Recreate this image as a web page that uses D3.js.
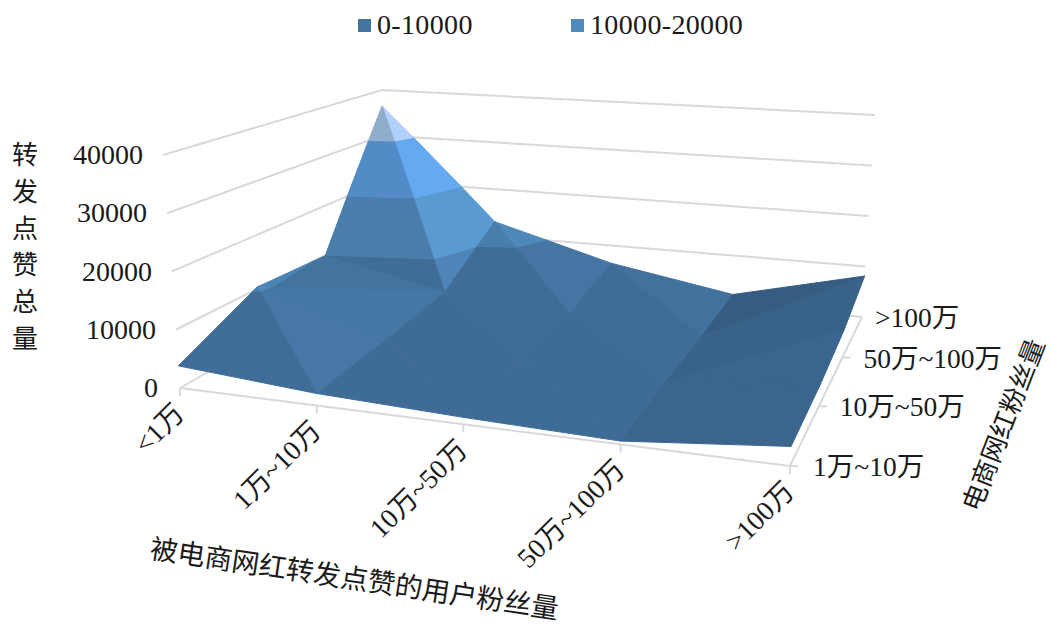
<!DOCTYPE html>
<html>
<head>
<meta charset="utf-8">
<script src="https://cdn.jsdelivr.net/npm/d3@7"></script>
<style>
html,body{margin:0;padding:0;background:#fff;}
svg{display:block;}
text{font-family:"Liberation Serif","Noto Sans CJK SC",serif;fill:#1a1a1a;}
</style>
</head>
<body>
<svg id="chart" width="1051" height="625"></svg>
<script>
// Categories along the two floor axes
const fanCats = ["<1万","1万~10万","10万~50万","50万~100万",">100万"];
const influencerCats = ["1万~10万","10万~50万","50万~100万",">100万"];
const zTicks = [0,10000,20000,30000,40000];

// Total reposts and likes, one row per influencer fan bracket (front to back)
const row1 = [3800,2000,1100,500,2900];
const row2 = [10400,3100,2200,1100,3500];
const row3 = [9900,4800,3000,1300,5000];
const row4 = [36500,13000,6300,2100,8100];
const rows = [row1,row2,row3,row4];

// Quad diagonals: true joins (i,j)-(i+1,j+1), false joins (i,j+1)-(i+1,j)
const diagonals = [
  [false,false,false,false],
  [true,false,false,true],
  [false,false,false,true]
];

// Band colours per 10000 step
const bandColors = ["#3f6c96","#487daa","#528ac4","#8fabcb"];
const legendItems = [{label:"0-10000",color:"#44749f"},{label:"10000-20000",color:"#4f88bd"}];

// Cube corners on the page: floor and the 40000 level
const floorQuad = [[180,388],[790,466],[862,317],[383,272]];
const topQuad = [[163,155],[804,196],[875,115],[382,90]];

// Maps the unit square onto a quad with a projective transform
function squareToQuad(q){
  const [[x0,y0],[x1,y1],[x2,y2],[x3,y3]] = q;
  const dx1=x1-x2, dx2=x3-x2, sx=x0-x1+x2-x3;
  const dy1=y1-y2, dy2=y3-y2, sy=y0-y1+y2-y3;
  const den=dx1*dy2-dx2*dy1;
  const g=(sx*dy2-dx2*sy)/den, h=(dx1*sy-sx*dy1)/den;
  const a=x1-x0+g*x1, b=x3-x0+h*x3, c=x0;
  const d=y1-y0+g*y1, e=y3-y0+h*y3, f=y0;
  return (u,v)=>{
    const w=g*u+h*v+1;
    return [(a*u+b*v+c)/w,(d*u+e*v+f)/w];
  };
}
const floorMap = squareToQuad(floorQuad);
const topMap = squareToQuad(topQuad);

const xScale = d3.scalePoint().domain(fanCats).range([0,1]);
const yScale = d3.scalePoint().domain(influencerCats).range([0,1]);
const zScale = d3.scaleLinear().domain([0,40000]).range([0,1]);

function project(u,v,val){
  const p=floorMap(u,v), q=topMap(u,v), t=zScale(val);
  return [d3.interpolateNumber(p[0],q[0])(t), d3.interpolateNumber(p[1],q[1])(t)];
}

const svg = d3.select("#chart");
const line = d3.line();
const gridColor = "#d9d9d9";
const axisG = svg.append("g").attr("fill","none").attr("stroke",gridColor).attr("stroke-width",2);

// Wall gridlines
zTicks.forEach(z=>{
  axisG.append("path").attr("d",line([project(0,0,z),project(0,1,z),project(1,1,z)]));
});
// Floor edges and ticks
axisG.append("path").attr("d",line([project(0,0,0),project(1,0,0),project(1,1,0)]));
fanCats.forEach(c=>{
  const p=project(xScale(c),0,0);
  axisG.append("path").attr("d",line([p,[p[0],p[1]+8]]));
});
influencerCats.slice(0,3).forEach(c=>{
  const p=project(1,yScale(c),0);
  axisG.append("path").attr("d",line([p,[p[0]+8,p[1]]]));
});

// Triangulate the surface
const vertex=(i,j)=>({u:xScale(fanCats[i]),v:yScale(influencerCats[j]),i,j,val:rows[j][i]});
const tris=[];
for(let j=0;j<rows.length-1;j++){
  for(let i=0;i<fanCats.length-1;i++){
    const a=vertex(i,j),b=vertex(i+1,j),c=vertex(i,j+1),d=vertex(i+1,j+1);
    if(diagonals[j][i]) tris.push([a,b,d],[a,d,c]);
    else tris.push([a,b,c],[b,d,c]);
  }
}

// Light comes from the +x side; gentle slopes facing it barely brighten a facet
function facetLight(t){
  const [p,q,r]=t;
  const ax=q.i-p.i, ay=q.j-p.j, az=(q.val-p.val)/10000;
  const bx=r.i-p.i, by=r.j-p.j, bz=(r.val-p.val)/10000;
  let nx=ay*bz-az*by, ny=az*bx-ax*bz, nz=ax*by-ay*bx;
  const len=Math.hypot(nx,ny,nz);
  nx/=len; nz/=len;
  if(nz<0) nx=-nx;
  return nx>0 ? 1+0.3*nx*nx : 1+0.27*nx;
}

function lerpVertex(p,q,val){
  const t=(val-p.val)/(q.val-p.val);
  return {u:p.u+(q.u-p.u)*t,v:p.v+(q.v-p.v)*t,val};
}
// Sutherland-Hodgman clip of a polygon to one side of a value level
function clipLevel(poly,level,keepAbove){
  const inside=p=>keepAbove?p.val>=level:p.val<=level;
  const out=[];
  poly.forEach((p,k)=>{
    const q=poly[(k+1)%poly.length];
    if(inside(p)) out.push(p);
    if(inside(p)!==inside(q)) out.push(lerpVertex(p,q,level));
  });
  return out;
}

// Back-to-front painting order
tris.sort((s,t)=>d3.descending(d3.mean(s,p=>p.j),d3.mean(t,p=>p.j))||d3.ascending(d3.mean(s,p=>p.i),d3.mean(t,p=>p.i)));

const surface=svg.append("g");
const pathLine=d3.line();
tris.forEach(t=>{
  const light=facetLight(t);
  bandColors.forEach((col,b)=>{
    let poly=clipLevel(t,b*10000,true);
    if(poly.length>2) poly=clipLevel(poly,(b+1)*10000,false);
    if(poly.length<3) return;
    const c=d3.rgb(col);
    const shaded=d3.rgb(c.r*light,c.g*light,c.b*light).clamp().formatHex();
    surface.append("path")
      .attr("d",pathLine(poly.map(p=>project(p.u,p.v,p.val)))+"Z")
      .attr("fill",shaded).attr("stroke",shaded).attr("stroke-width",1).attr("stroke-linejoin","round");
  });
});

// Legend
const legendX=[358,571];
legendItems.forEach((d,k)=>{
  svg.append("rect").attr("x",legendX[k]).attr("y",19).attr("width",13).attr("height",13).attr("fill",d.color);
  svg.append("text").attr("x",legendX[k]+19).attr("y",34).attr("font-size",28).attr("letter-spacing",0.35).text(d.label);
});

// Value axis labels
const zLabelRight=[158,156,152,147,143];
zTicks.forEach((z,k)=>{
  const p=project(0,0,z);
  svg.append("text").attr("x",zLabelRight[k]).attr("y",p[1]+9).attr("text-anchor","end").attr("font-size",28).text(d3.format("d")(z));
});

// Fan-axis labels, rotated
fanCats.forEach(c=>{
  const p=project(xScale(c),0,0);
  svg.append("text")
    .attr("transform",`translate(${p[0]+6},${p[1]+27}) rotate(-45)`)
    .attr("text-anchor","end").attr("font-size",27.5).text(c);
});

// Influencer-axis labels
const influencerLabelGap=[23,21,21,13];
influencerCats.forEach((c,k)=>{
  const p=project(1,yScale(c),0);
  svg.append("text").attr("x",p[0]+influencerLabelGap[k]).attr("y",p[1]+10).attr("font-size",27.5).text(c);
});

// Axis titles
const zTitle="转发点赞总量".split("");
zTitle.forEach((ch,k)=>{
  svg.append("text").attr("x",25).attr("y",164+k*36.8).attr("text-anchor","middle").attr("font-size",26).text(ch);
});
svg.append("text").attr("transform","translate(149,558) rotate(8.5)").attr("font-size",27.5).text("被电商网红转发点赞的用户粉丝量");
svg.append("text").attr("transform","translate(979,513) rotate(-68.7)").attr("font-size",26).text("电商网红粉丝量");
</script>
</body>
</html>
